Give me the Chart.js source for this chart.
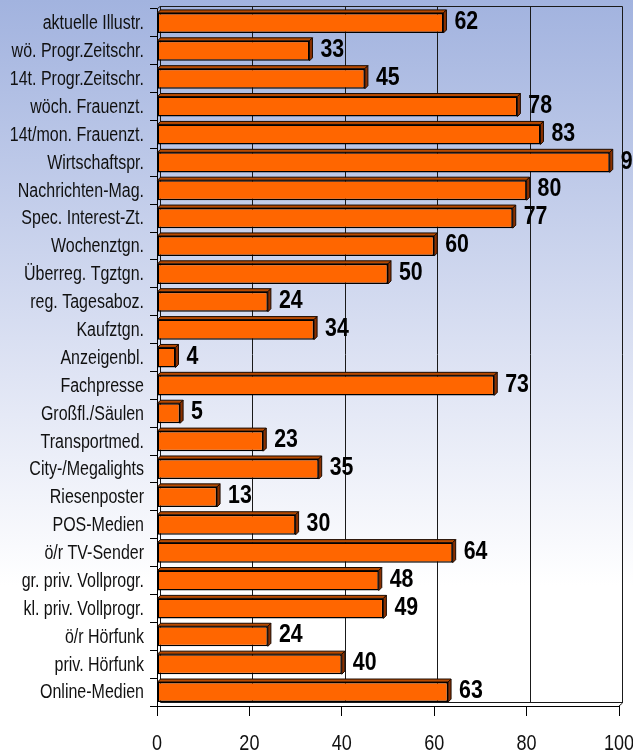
<!DOCTYPE html>
<html>
<head>
<meta charset="utf-8">
<script src="https://cdn.jsdelivr.net/npm/chart.js@4/dist/chart.umd.min.js"></script>
<style>
  html, body { margin: 0; padding: 0; background: #fff; }
  #wrap { width: 633px; height: 751px; position: relative; }
</style>
</head>
<body>
<div id="wrap"><canvas id="c" width="633" height="751"></canvas></div>
<script>
const categories = [
  "aktuelle Illustr.", "wö. Progr.Zeitschr.", "14t. Progr.Zeitschr.", "wöch. Frauenzt.",
  "14t/mon. Frauenzt.", "Wirtschaftspr.", "Nachrichten-Mag.", "Spec. Interest-Zt.",
  "Wochenztgn.", "Überreg. Tgztgn.", "reg. Tagesaboz.", "Kaufztgn.", "Anzeigenbl.",
  "Fachpresse", "Großfl./Säulen", "Transportmed.", "City-/Megalights", "Riesenposter",
  "POS-Medien", "ö/r TV-Sender", "gr. priv. Vollprogr.", "kl. priv. Vollprogr.",
  "ö/r Hörfunk", "priv. Hörfunk", "Online-Medien"
];
const values = [62, 33, 45, 78, 83, 98, 80, 77, 60, 50, 24, 34, 4, 73, 5, 23, 35, 13, 30, 64, 48, 49, 24, 40, 63];
const xTicks = [0, 20, 40, 60, 80, 100];

const FONT = "'Liberation Sans', Arial, sans-serif";
const SQUEEZE = 0.82;   // emulates a narrow face
const DEPTH = 3;

function narrowText(ctx, text, x, y, align, baseline, font, color) {
  ctx.save();
  ctx.font = font;
  ctx.fillStyle = color;
  ctx.textAlign = align;
  ctx.textBaseline = baseline;
  ctx.translate(x, y);
  ctx.scale(SQUEEZE, 1);
  ctx.fillText(text, 0, 0);
  ctx.restore();
}

const bgPlugin = {
  id: 'bg',
  beforeDraw(chart) {
    const ctx = chart.ctx;
    const g = ctx.createLinearGradient(0, 0, 0, chart.height);
    g.addColorStop(0, '#a2b3df');
    g.addColorStop(0.5, '#dfe4f4');
    g.addColorStop(0.78, '#ffffff');
    g.addColorStop(1, '#ffffff');
    ctx.save();
    ctx.fillStyle = g;
    ctx.fillRect(0, 0, chart.width, chart.height);
    ctx.restore();
  }
};

const wallPlugin = {
  id: 'wall',
  beforeDatasetsDraw(chart) {
    const ctx = chart.ctx;
    const a = chart.chartArea;
    const xs = chart.scales.x;
    const r = xs.getPixelForValue(100);
    ctx.save();
    ctx.strokeStyle = '#1a1a1a';
    ctx.lineWidth = 1;
    xTicks.forEach(v => {
      if (v === 0 || v === 100) return;
      const px = Math.round(xs.getPixelForValue(v) + DEPTH) + 0.5;
      ctx.beginPath();
      ctx.moveTo(px, a.top - DEPTH);
      ctx.lineTo(px, a.bottom - DEPTH);
      ctx.stroke();
    });
    ctx.beginPath();
    ctx.moveTo(a.left, a.top);
    ctx.lineTo(a.left + DEPTH, a.top - DEPTH + 0.5);
    ctx.lineTo(r + DEPTH + 0.5, a.top - DEPTH + 0.5);
    ctx.lineTo(r + DEPTH + 0.5, a.bottom - DEPTH);
    ctx.lineTo(r, a.bottom);
    ctx.stroke();
    ctx.beginPath();
    ctx.moveTo(a.left + DEPTH + 0.5, a.top - DEPTH);
    ctx.lineTo(a.left + DEPTH + 0.5, a.bottom - DEPTH - 0.5);
    ctx.lineTo(r + DEPTH, a.bottom - DEPTH - 0.5);
    ctx.stroke();
    ctx.restore();

    const meta = chart.getDatasetMeta(0);
    meta.data.forEach(bar => {
      const p = bar.getProps(['x', 'y', 'base', 'height'], true);
      const top = p.y - p.height / 2, bottom = p.y + p.height / 2;
      ctx.save();
      ctx.lineWidth = 1;
      ctx.strokeStyle = '#1a0a00';
      ctx.fillStyle = '#b84a00';
      ctx.beginPath();
      ctx.moveTo(p.base, top);
      ctx.lineTo(p.base + DEPTH, top - DEPTH);
      ctx.lineTo(p.x + DEPTH, top - DEPTH);
      ctx.lineTo(p.x, top);
      ctx.closePath();
      ctx.fill(); ctx.stroke();
      ctx.fillStyle = '#8a3000';
      ctx.beginPath();
      ctx.moveTo(p.x, top);
      ctx.lineTo(p.x + DEPTH, top - DEPTH);
      ctx.lineTo(p.x + DEPTH, bottom - DEPTH);
      ctx.lineTo(p.x, bottom);
      ctx.closePath();
      ctx.fill(); ctx.stroke();
      ctx.restore();
    });
  },
  afterDatasetsDraw(chart) {
    const ctx = chart.ctx;
    const meta = chart.getDatasetMeta(0);
    meta.data.forEach((bar, i) => {
      const p = bar.getProps(['x', 'y'], true);
      narrowText(ctx, String(values[i]), p.x + 11, p.y - 1, 'left', 'middle', 'bold 26px ' + FONT, '#000');
    });
  },
  afterDraw(chart) {
    const ctx = chart.ctx;
    const ys = chart.scales.y;
    const xs = chart.scales.x;
    categories.forEach((c, i) => {
      narrowText(ctx, c, ys.right - 13, ys.getPixelForValue(i) + 1, 'right', 'middle', '19.5px ' + FONT, '#111');
    });
    xTicks.forEach(v => {
      narrowText(ctx, String(v), xs.getPixelForValue(v), xs.top + 27, 'center', 'top', '22px ' + FONT, '#111');
    });
  }
};

new Chart(document.getElementById('c'), {
  type: 'bar',
  data: {
    labels: categories,
    datasets: [{
      data: values,
      backgroundColor: '#ff6600',
      borderColor: '#000000',
      borderWidth: 1.5,
      borderSkipped: false,
      barPercentage: 0.72,
      categoryPercentage: 1
    }]
  },
  options: {
    indexAxis: 'y',
    responsive: false,
    animation: false,
    devicePixelRatio: 1,
    layout: { padding: { top: 9, right: 14, left: 0, bottom: 0 } },
    plugins: { legend: { display: false }, tooltip: { enabled: false } },
    scales: {
      x: {
        min: 0, max: 100,
        afterBuildTicks(scale) { scale.ticks = xTicks.map(v => ({ value: v })); },
        afterFit(scale) { scale.height = 45; scale.paddingLeft = 0; scale.paddingRight = 0; },
        grid: { display: true, drawOnChartArea: false, drawTicks: true, tickLength: 10, color: '#000', lineWidth: 1 },
        border: { display: true, color: '#000', width: 1 },
        ticks: { display: false }
      },
      y: {
        afterFit(scale) { scale.width = 157; scale.paddingTop = 0; scale.paddingBottom = 0; },
        grid: { display: true, offset: true, drawOnChartArea: false, drawTicks: true, tickLength: 7, color: '#000', lineWidth: 1 },
        border: { display: true, color: '#000', width: 1 },
        ticks: { display: false, autoSkip: false }
      }
    }
  },
  plugins: [bgPlugin, wallPlugin]
});
</script>
</body>
</html>
